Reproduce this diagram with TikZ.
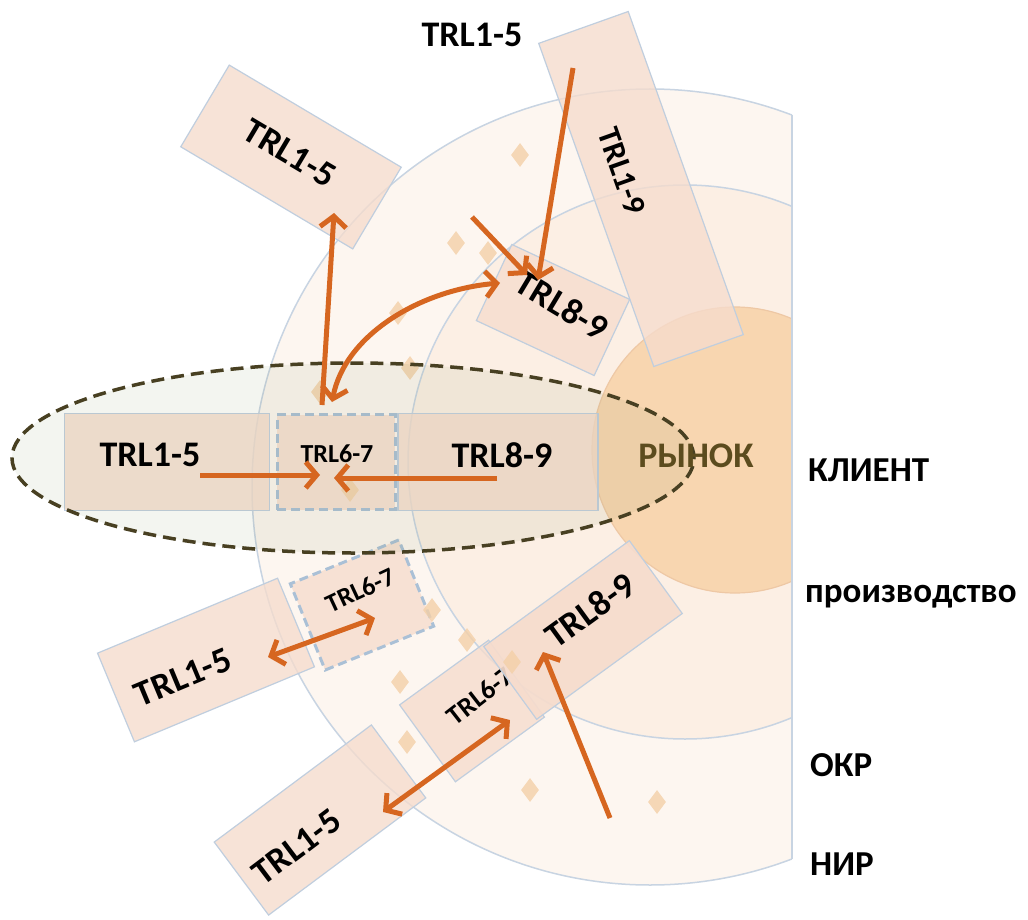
\documentclass[tikz,border=0pt]{standalone}
\usepackage{fontspec}
\setmainfont{Carlito}
\usetikzlibrary{arrows.meta,shapes.geometric}
\definecolor{arr}{RGB}{214,102,32}
\definecolor{boxfill}{RGB}{246,220,205}
\definecolor{boxline}{RGB}{192,206,222}
\definecolor{dashline}{RGB}{170,192,214}
\definecolor{outfill}{RGB}{253,246,240}
\definecolor{midfill}{RGB}{252,239,228}
\definecolor{ringline}{RGB}{200,212,226}
\definecolor{circfill}{RGB}{248,214,176}
\definecolor{circline}{RGB}{238,200,165}
\definecolor{ellline}{RGB}{72,64,34}
\definecolor{ellfill}{RGB}{130,145,90}
\definecolor{market}{RGB}{92,76,30}
\definecolor{diafill}{RGB}{244,208,168}
\begin{document}
\begin{tikzpicture}[x=1pt,y=-1pt,
  box/.style={draw=boxline,line width=1.2pt,fill=boxfill,fill opacity=0.78,inner sep=0pt},
  dashbox/.style={draw=dashline,line width=3pt,dash pattern=on 9pt off 5pt},
  big/.style={font=\fontsize{36}{40}\selectfont\bfseries,inner sep=0pt,text=black},
  small/.style={font=\fontsize{26}{30}\selectfont\bfseries,inner sep=0pt,text=black},
  side/.style={font=\fontsize{35}{40}\selectfont\bfseries,inner sep=0pt,anchor=west,text=black},
  dia/.style={diamond,fill=diafill,fill opacity=0.8,minimum width=18pt,minimum height=24pt,inner sep=0pt},
  tip/.tip={Straight Barb[length=11pt,width=26pt]},
  arw/.style={draw=arr,line width=5pt,-tip},
  darw/.style={draw=arr,line width=5pt,tip-tip},
  ringl/.style={draw=ringline,line width=1.5pt}]
\useasboundingbox (0,0) rectangle (1028,920);
\fill[white] (0,0) rectangle (1028,920);
% rings
\begin{scope}
  \clip (0,0) rectangle (792,920);
  \fill[outfill] (650,487) circle (398pt);
  \fill[midfill] (685,462) circle (277pt);
  \draw[ringl] (650,487) circle (398pt);
  \draw[ringl] (685,462) circle (277pt);
  \fill[circfill] (735,450) circle (143pt);
  \draw[circline,line width=1.2pt] (735,450) circle (143pt);
\end{scope}
\draw[ringl] (792,115) -- (792,859);
% band boxes
\node[box,minimum width=205pt,minimum height=97pt] (b15) at (167,462) {};
\node[box,minimum width=200pt,minimum height=97pt] (b89) at (498,462) {};
\node[box,dashbox,minimum width=118pt,minimum height=95pt] (b67) at (336,462) {};
% rotated boxes
\node[box,minimum width=200pt,minimum height=95pt,rotate=-30.7] (bt15) at (291,157) {};
\node[box,minimum width=343pt,minimum height=95pt,rotate=-70.4] (b19) at (641,189) {};
\node[box,minimum width=130pt,minimum height=84pt,rotate=-25] (bu89) at (553,310) {};
\node[box,minimum width=195pt,minimum height=96pt,rotate=22.6] (bl15) at (206,660) {};
\node[box,dashbox,minimum width=117pt,minimum height=93pt,rotate=22] (bl67) at (362,605) {};
\node[box,minimum width=196pt,minimum height=91pt,rotate=36.7] (bb15) at (320,820) {};
\node[box,minimum width=110pt,minimum height=95pt,rotate=36] (bb67) at (472,711) {};
\node[small,font=\fontsize{27}{30}\selectfont\bfseries,rotate=38] (tbb67) at (480,696) {TRL6-7};
\node[box,fill opacity=0.92,minimum width=180pt,minimum height=90pt,rotate=36] (bb89) at (583,630) {};
% diamonds
\foreach \p [count=\i] in {(520,155),(456,243),(488,253),(398,313),(410,368),(320,392),(350,490),(432,610),(467,640),(400,682),(512,662),(407,742),(530,790),(657,802)}
  \node[dia] (d\i) at \p {};
% ellipse
\fill[ellfill,fill opacity=0.09] (353,458) ellipse [x radius=341pt,y radius=95pt];
\draw[ellline,line width=3.5pt,dash pattern=on 13pt off 7pt] (353,458) ellipse [x radius=341pt,y radius=95pt];
% texts
\node[big] (top15) at (472,35) {TRL1-5};
\node[big] (t15) at (150,455) {TRL1-5};
\node[small] (t67) at (337,454) {TRL6-7};
\node[big] (t89) at (502,455) {TRL8-9};
\node[big,text=market] (tmk) at (696,456) {РЫНОК};
\node[big,rotate=-30.7] (tt15) at (290,153) {TRL1-5};
\node[big,font=\fontsize{32}{36}\selectfont\bfseries,rotate=-70.4] (t19) at (622,171) {TRL1-9};
\node[big,rotate=-31] (tu89) at (562,305) {TRL8-9};
\node[big,rotate=22.6] (tl15) at (183,677) {TRL1-5};
\node[small,rotate=25] (tl67) at (360,590) {TRL6-7};
\node[big,rotate=36] (tb89) at (590,610) {TRL8-9};
\node[big,rotate=37] (tbl15) at (297,847) {TRL1-5};
\node[side] (lk) at (808,470) {КЛИЕНТ};
\node[side] (lp) at (805,597) {производство};
\node[side] (lo) at (810,765) {ОКР};
\node[side] (ln) at (810,864) {НИР};
% arrows
\coordinate (a1s) at (200,475); \coordinate (a1e) at (320,475);
\coordinate (a2s) at (497,478); \coordinate (a2e) at (334,478);
\coordinate (a3s) at (322,405); \coordinate (a3e) at (334,213);
\coordinate (a4s) at (332,402); \coordinate (a4e) at (500,283);
\coordinate (a5s) at (573,68);  \coordinate (a5e) at (538,280);
\coordinate (a6s) at (472,217); \coordinate (a6e) at (527,275);
\coordinate (a7s) at (268,657); \coordinate (a7e) at (375,618);
\coordinate (a8s) at (383,812); \coordinate (a8e) at (510,720);
\coordinate (a9s) at (610,818); \coordinate (a9e) at (543,652);
\draw[arw] (a1s) -- (a1e);
\draw[arw] (a2s) -- (a2e);
\draw[arw] (a3s) -- (a3e);
\draw[darw] (a4s) .. controls (345,335) and (420,290) .. (a4e);
\draw[arw] (a5s) -- (a5e);
\draw[arw] (a6s) -- (a6e);
\draw[darw] (a7s) -- (a7e);
\draw[darw] (a8s) -- (a8e);
\draw[arw] (a9s) -- (a9e);
\end{tikzpicture}
\end{document}
